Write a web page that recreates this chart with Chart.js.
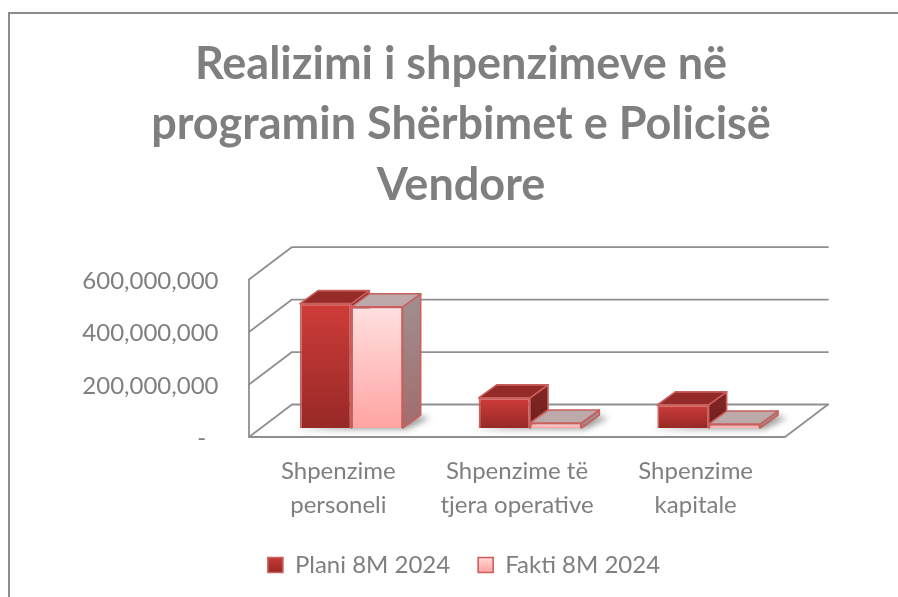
<!DOCTYPE html>
<html>
<head>
<meta charset="utf-8">
<script src="https://cdn.jsdelivr.net/npm/chart.js@4/dist/chart.umd.min.js"></script>
<style>
    html, body { margin: 0; padding: 0; background: #fff; overflow: hidden; }
    #kornizaSiper { position: absolute; left: 8px; top: 12px; right: 0; height: 2px; background: #8c8c8c; }
    #kornizaMajtas { position: absolute; left: 8px; top: 12px; bottom: 0; width: 2px; background: #8c8c8c; }
    canvas { position: absolute; left: 0; top: 0; }
</style>
</head>
<body>
<canvas id="grafiku" width="898" height="597"></canvas>
<div id="kornizaSiper"></div>
<div id="kornizaMajtas"></div>
<script>
const titulli = ['Realizimi i shpenzimeve në', 'programin Shërbimet e Policisë', 'Vendore'];
const kategorite = [['Shpenzime', 'personeli'], ['Shpenzime të', 'tjera operative'], ['Shpenzime', 'kapitale']];
const plani = [474000000, 115000000, 88000000];
const fakti = [462000000, 19000000, 15000000];
const etiketatY = ['-  ', '200,000,000', '400,000,000', '600,000,000'];

const gri = '#7f7f7f';
const vijaGri = '#8f8f8f';
const kufiShtylle = '#c9605d';

// thellesia e pamjes 3D: sa zhvendoset plani i shtyllave ndaj dyshemese
const para = { dx: -13, dy: 9 };
const mbrapa = { dx: 30, dy: -23.5 };
const thellesiShtylle = { dx: 18, dy: -13 };

function gradient(ctx, y0, y1, c0, c1) {
    const g = ctx.createLinearGradient(0, y0, 0, y1);
    g.addColorStop(0, c0);
    g.addColorStop(1, c1);
    return g;
}

function ngjyreShtylle(c0, c1) {
    return function(context) {
        const chart = context.chart;
        if (context.type !== 'data' || !chart.scales.y) return c0;
        return gradient(chart.ctx, chart.scales.y.getPixelForValue(context.raw), chart.scales.y.getPixelForValue(0), c0, c1);
    };
}

function poligon(ctx, pika, mbushje, vije, trashesi) {
    ctx.beginPath();
    pika.forEach((p, i) => i ? ctx.lineTo(p[0], p[1]) : ctx.moveTo(p[0], p[1]));
    ctx.closePath();
    if (mbushje) { ctx.fillStyle = mbushje; ctx.fill(); }
    if (vije) { ctx.strokeStyle = vije; ctx.lineWidth = trashesi; ctx.stroke(); }
}

const pamje3D = {
    id: 'pamje3D',
    afterLayout(chart) {
        // legjenda ne origjinal nuk eshte ne qender te titullit
        chart.legend.left += 3;
        chart.legend.right += 3;
        // etiketat e boshtit y dalin jashte kutise se tij, mos i prit
        chart.scales.y.left = 0;
    },
    beforeDatasetsDraw(chart) {
        const { ctx, chartArea, scales } = chart;
        const xL = chartArea.left, xR = chartArea.right;
        const y0 = scales.y.getPixelForValue(0);

        ctx.save();
        ctx.lineCap = 'round';
        ctx.lineJoin = 'round';
        ctx.strokeStyle = vijaGri;
        ctx.lineWidth = 1.8;

        // muri i pasem dhe muri anesor, nga vlerat e shkalles
        scales.y.ticks.forEach(t => {
            const y = scales.y.getPixelForValue(t.value);
            ctx.beginPath();
            ctx.moveTo(xL + para.dx, y + para.dy);
            ctx.lineTo(xL + mbrapa.dx, y + mbrapa.dy);
            ctx.lineTo(xR + mbrapa.dx, y + mbrapa.dy);
            ctx.stroke();
        });
        const yMax = scales.y.getPixelForValue(scales.y.max);
        ctx.beginPath();
        ctx.moveTo(xL + para.dx, yMax + para.dy);
        ctx.lineTo(xL + para.dx, y0 + para.dy);
        ctx.lineTo(xR + para.dx, y0 + para.dy);
        ctx.lineTo(xR + mbrapa.dx, y0 + mbrapa.dy);
        ctx.stroke();

        const metaP = chart.getDatasetMeta(0).data;
        const metaF = chart.getDatasetMeta(1).data;

        // hija ne dysheme
        metaP.forEach((p, i) => {
            const f = metaF[i];
            const xa = p.x - p.width / 2, xb = f.x + f.width / 2;
            ctx.save();
            ctx.filter = 'blur(3px)';
            poligon(ctx, [
                [xa - 6, y0 + 1], [xb + 4, y0 + 1],
                [xb + thellesiShtylle.dx + 9, y0 + thellesiShtylle.dy + 3],
                [xb + thellesiShtylle.dx - 2, y0 + thellesiShtylle.dy + 1]
            ], 'rgba(70,70,70,0.55)');
            ctx.restore();
        });

        // faqet e siperme dhe anesore te shtyllave
        const d = thellesiShtylle;
        const faqe = (bar, siper, anesore) => {
            const xa = bar.x - bar.width / 2, xb = bar.x + bar.width / 2;
            poligon(ctx, [[xb, bar.y], [xb + d.dx, bar.y + d.dy], [xb + d.dx, bar.base + d.dy], [xb, bar.base]], anesore, kufiShtylle, 1.6);
            poligon(ctx, [[xa, bar.y], [xa + d.dx, bar.y + d.dy], [xb + d.dx, bar.y + d.dy], [xb, bar.y]], siper, kufiShtylle, 1.6);
        };
        metaP.forEach(b => faqe(b, '#952b29', gradient(ctx, b.y, b.base, '#7e2422', '#6e1f1d')));
        metaF.forEach(b => faqe(b, '#bcaaaa', gradient(ctx, b.y, b.base, '#a08c8c', '#a26c6c')));
        ctx.restore();
    }
};

new Chart(document.getElementById('grafiku'), {
    type: 'bar',
    plugins: [pamje3D],
    data: {
        labels: kategorite,
        datasets: [
            {
                label: 'Plani 8M 2024',
                data: plani,
                backgroundColor: ngjyreShtylle('#ce3c39', '#972927'),
                borderColor: kufiShtylle,
                borderWidth: 1.6,
                categoryPercentage: 0.575,
                barPercentage: 1
            },
            {
                label: 'Fakti 8M 2024',
                data: fakti,
                backgroundColor: ngjyreShtylle('#ffe0e0', '#ffa4a2'),
                borderColor: kufiShtylle,
                borderWidth: 1.6,
                categoryPercentage: 0.575,
                barPercentage: 1
            }
        ]
    },
    options: {
        responsive: false,
        animation: false,
        layout: { padding: { left: 124, right: 100, top: 34, bottom: 10 } },
        plugins: {
            title: {
                display: true,
                text: titulli,
                color: gri,
                font: { family: 'Lato', size: 45, weight: 'bold', lineHeight: 1.345 },
                padding: { top: 0, bottom: 55 }
            },
            legend: {
                position: 'bottom',
                labels: {
                    color: gri,
                    font: { family: 'Lato', size: 24 },
                    boxWidth: 15,
                    boxHeight: 15,
                    padding: 28,
                    generateLabels(chart) {
                        const ctx = chart.ctx;
                        return [
                            { text: 'Plani 8M 2024', fontColor: gri, fillStyle: gradient(ctx, 555, 572, '#ce3c39', '#972927'), strokeStyle: kufiShtylle, lineWidth: 1.6, datasetIndex: 0 },
                            { text: 'Fakti 8M 2024', fontColor: gri, fillStyle: gradient(ctx, 555, 572, '#ffe0e0', '#ffa4a2'), strokeStyle: kufiShtylle, lineWidth: 1.6, datasetIndex: 1 }
                        ];
                    }
                }
            },
            tooltip: { enabled: false }
        },
        scales: {
            x: {
                afterFit(scale) { scale.height = 97; },
                grid: { display: false },
                border: { display: false },
                ticks: {
                    color: gri,
                    font: { family: 'Lato', size: 24, lineHeight: 1.42 },
                    labelOffset: -13,
                    padding: 18,
                    maxRotation: 0,
                    autoSkip: false
                }
            },
            y: {
                min: 0,
                max: 600000000,
                afterFit(scale) { scale.width = 138; },
                grid: { display: false, drawTicks: false },
                border: { display: false },
                ticks: {
                    stepSize: 200000000,
                    color: gri,
                    font: { family: 'Lato', size: 24 },
                    labelOffset: 10.5,
                    padding: 43.5,
                    callback: (v, i) => etiketatY[i]
                }
            }
        }
    }
});
</script>
</body>
</html>
